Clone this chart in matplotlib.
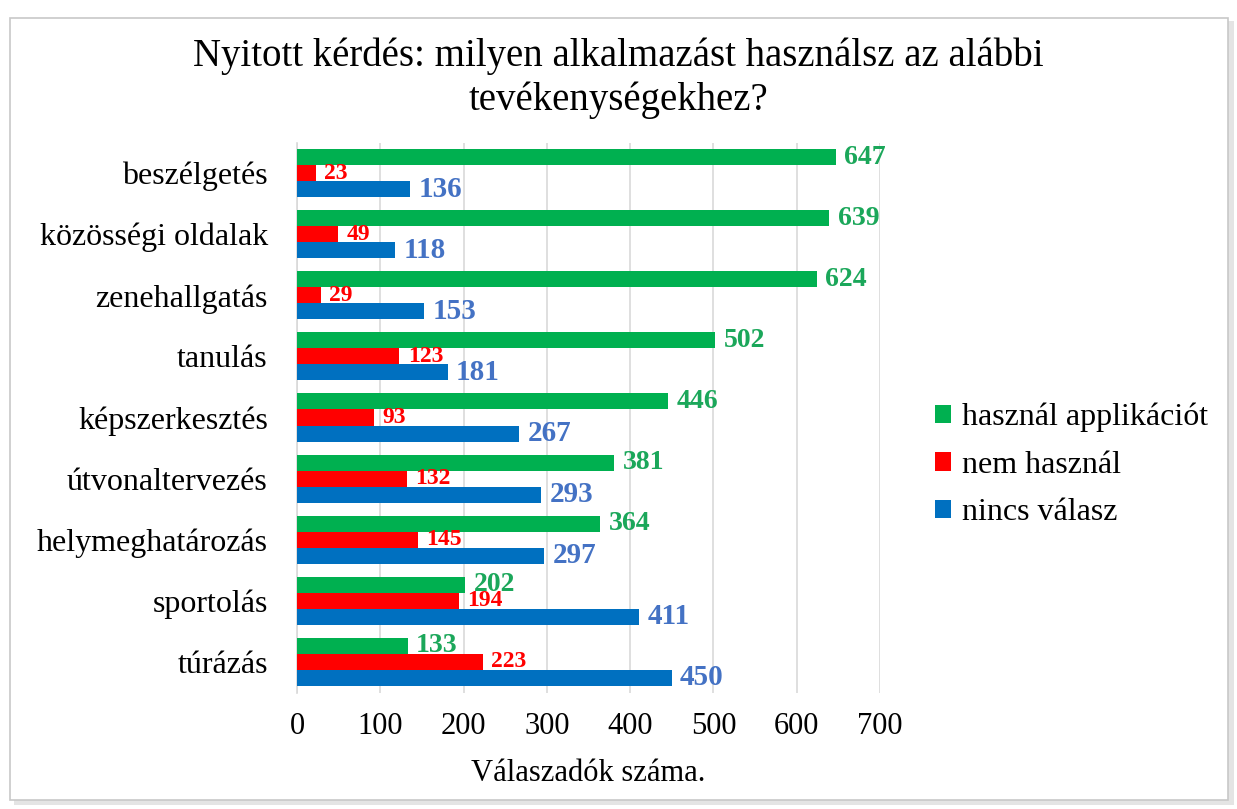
import matplotlib.pyplot as plt
from matplotlib.patches import Rectangle

plt.rcParams['font.family'] = ['Liberation Serif', 'DejaVu Serif']

# data
categories = ['beszélgetés', 'közösségi oldalak', 'zenehallgatás', 'tanulás',
              'képszerkesztés', 'útvonaltervezés', 'helymeghatározás',
              'sportolás', 'túrázás']
hasznal_app = [647, 639, 624, 502, 446, 381, 364, 202, 133]
nem_hasznal = [23, 49, 29, 123, 93, 132, 145, 194, 223]
nincs_valasz = [136, 118, 153, 181, 267, 293, 297, 411, 450]
series_names = ['használ applikációt', 'nem használ', 'nincs válasz']

bar_colors = ['#00B050', '#FF0000', '#0070C0']
label_colors = ['#1BA75A', '#FF0000', '#4472C4']
label_sizes = [20, 17, 21]

W, H = 1237, 809


def main():
    fig = plt.figure(figsize=(W / 100, H / 100), dpi=100)

    # chart frame with a soft shadow, like the pasted Excel chart
    fig.patches.append(Rectangle((14 / W, 1 - 805 / H), 1220 / W, 784 / H,
                                 transform=fig.transFigure, facecolor='#E4E4E4',
                                 edgecolor='none', zorder=0))
    fig.patches.append(Rectangle((10 / W, 1 - 800 / H), 1218 / W, 782 / H,
                                 transform=fig.transFigure, facecolor='white',
                                 edgecolor='#C8C8C8', linewidth=1.2, zorder=1))

    ax = fig.add_axes([297 / W, 1 - 692.5 / H, 583 / W, 550 / H])
    ax.set_zorder(2)
    ax.patch.set_alpha(0)

    h = 0.262
    ys = list(range(len(categories)))
    all_series = [hasznal_app, nem_hasznal, nincs_valasz]
    offsets = [-h, 0, h]
    for vals, off, name, bc, lc, ls in zip(all_series, offsets, series_names,
                                          bar_colors, label_colors, label_sizes):
        bars = ax.barh([y + off for y in ys], vals, height=h, color=bc,
                       label=name, zorder=3)
        ax.bar_label(bars, padding=6, color=lc, fontsize=ls,
                     fontweight='bold', zorder=4)

    ax.set_xlim(0, 700)
    ax.set_ylim(len(categories) - 0.5, -0.5)
    ax.set_xticks(range(0, 701, 100))
    ax.set_yticks(ys)
    ax.set_yticklabels(categories)
    ax.tick_params(axis='y', length=0, pad=21, labelsize=23)
    ax.tick_params(axis='x', length=0, pad=14, labelsize=22)
    ax.grid(axis='x', color='#D9D9D9', linewidth=1.2, zorder=0)
    ax.set_axisbelow(True)
    for side in ['top', 'right', 'bottom']:
        ax.spines[side].set_visible(False)
    ax.spines['left'].set_color('#D9D9D9')
    ax.spines['left'].set_linewidth(1.2)

    ax.set_xlabel('Válaszadók száma.', fontsize=22, labelpad=13)

    fig.text(0.5, 1 - 78 / H,
             'Nyitott kérdés: milyen alkalmazást használsz az alábbi\ntevékenységekhez?',
             ha='center', va='center', fontsize=28, linespacing=1.24)

    leg = fig.legend(loc='center left', bbox_to_anchor=(906 / W, 1 - 465 / H),
                     frameon=False, fontsize=23, handlelength=0.5,
                     handleheight=0.5, handletextpad=0.35, labelspacing=0.58)
    leg.set_zorder(5)

    fig.savefig('out.png', dpi=100)


if __name__ == "__main__":
    main()
